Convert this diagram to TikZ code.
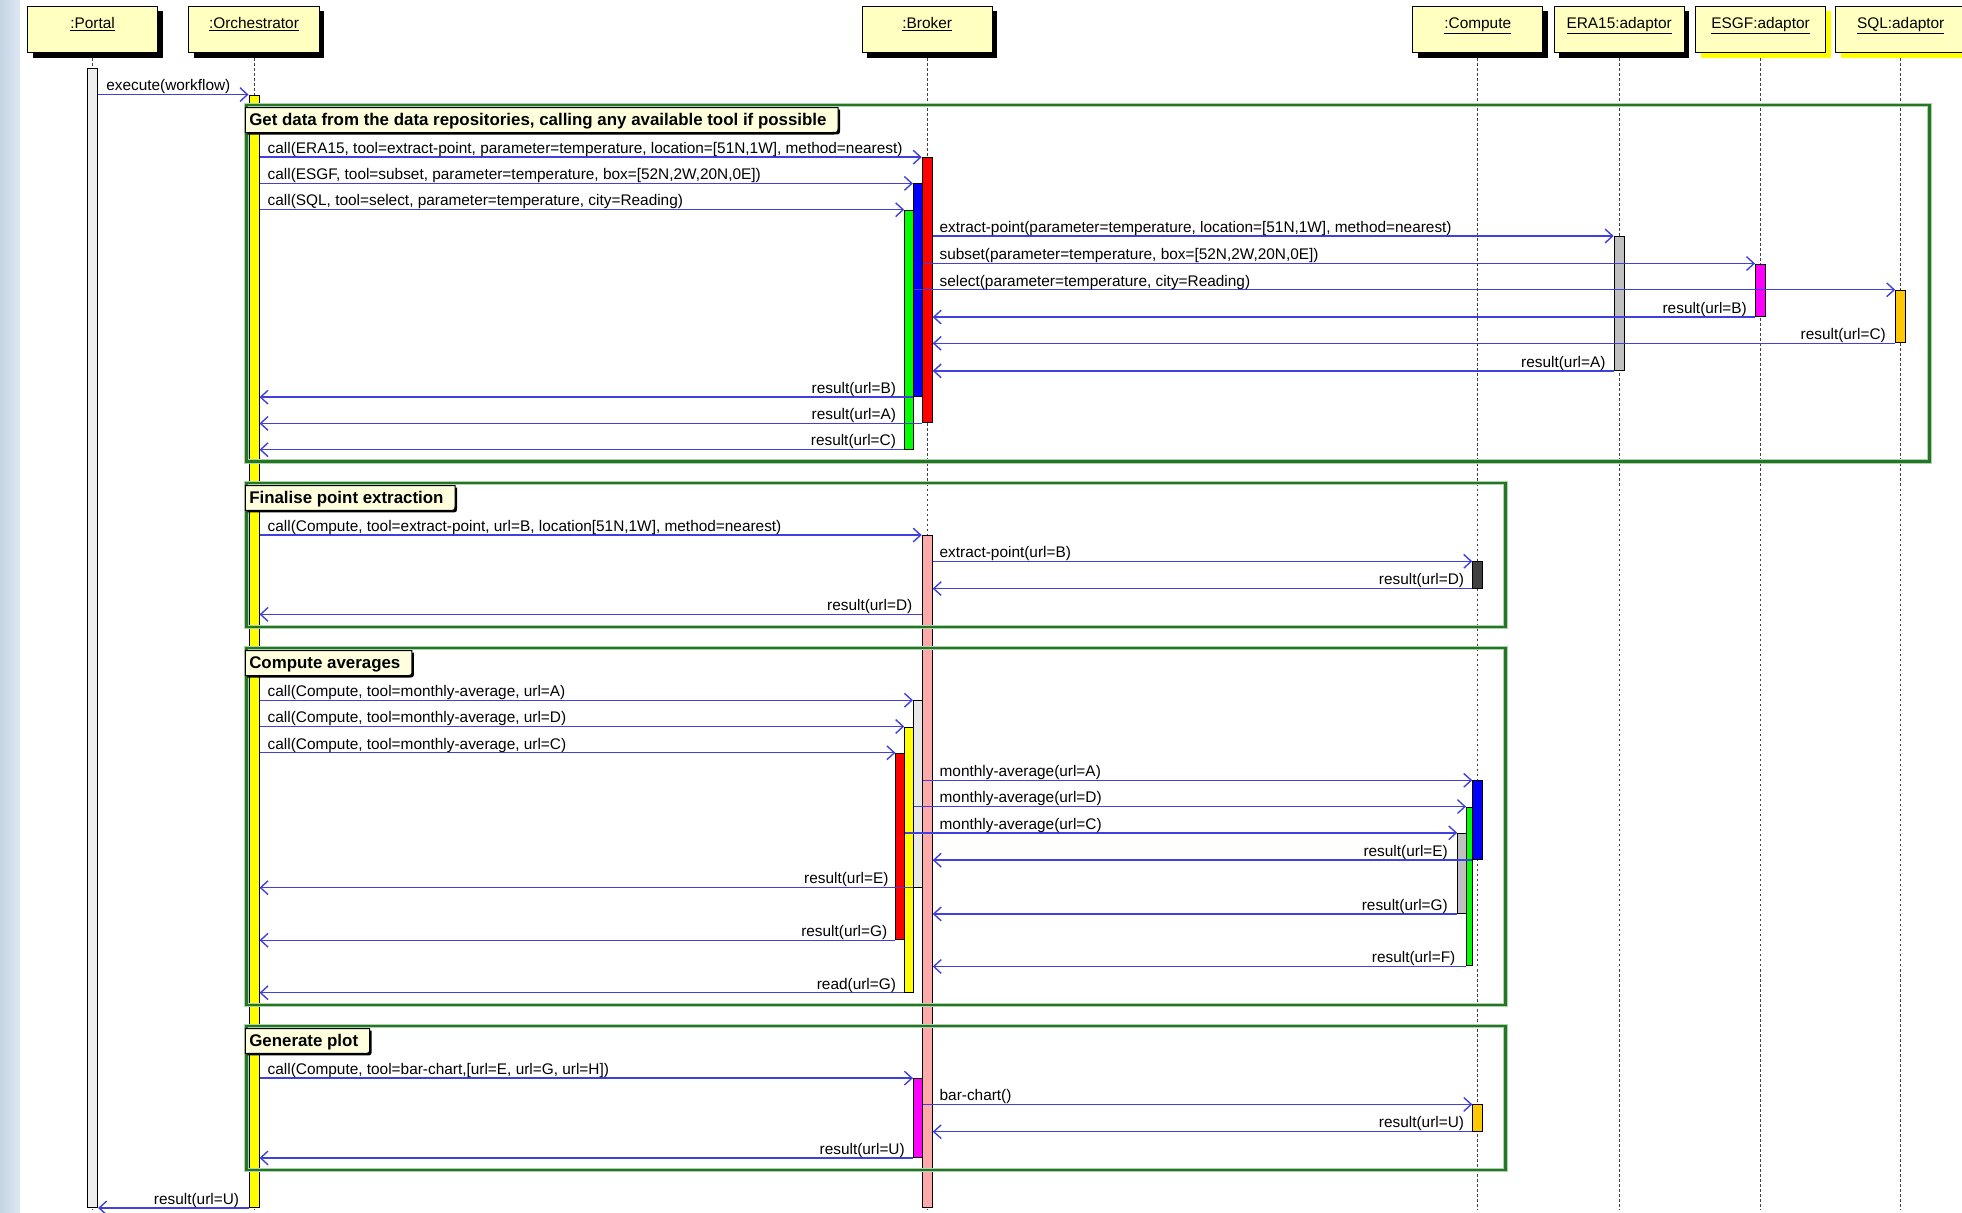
\documentclass[tikz,border=0pt]{standalone}
\usepackage{fontspec}
\setmainfont{Liberation Sans}
\usepackage{tikz}
\usetikzlibrary{arrows.meta,fit,shadows,backgrounds}
\definecolor{headfill}{RGB}{255,255,192}
\definecolor{tabfill}{RGB}{255,255,221}
\definecolor{msgblue}{RGB}{64,64,224}
\definecolor{framegreen}{RGB}{34,119,34}
\definecolor{sideblue}{RGB}{222,232,242}
\definecolor{sidebluedark}{RGB}{196,212,228}
\definecolor{portalgray}{RGB}{238,238,238}
\definecolor{actyellow}{RGB}{255,255,0}
\definecolor{actred}{RGB}{255,0,0}
\definecolor{actblue}{RGB}{0,0,255}
\definecolor{actgreen}{RGB}{0,255,0}
\definecolor{actmagenta}{RGB}{255,0,255}
\definecolor{actgray}{RGB}{192,192,192}
\definecolor{actlight}{RGB}{232,232,232}
\definecolor{actdark}{RGB}{64,64,64}
\definecolor{actpink}{RGB}{255,170,170}
\definecolor{actorange}{RGB}{255,200,0}
\pgfdeclarelayer{tabbg}
\pgfdeclarelayer{front}
\pgfsetlayers{main,tabbg,front}
\tikzset{
  headbox/.style={draw, line width=0.8pt, fill=headfill, minimum width=104pt, minimum height=37pt, inner sep=0pt, text height=9pt, text depth=11pt, drop shadow={shadow xshift=4pt, shadow yshift=-4pt, fill=black, opacity=1}},
  headboxy/.style={draw, line width=0.8pt, fill=headfill, minimum width=104pt, minimum height=37pt, inner sep=0pt, text height=9pt, text depth=11pt, drop shadow={shadow xshift=4pt, shadow yshift=-4pt, fill=actyellow, opacity=1}},
  lifeline/.style={draw=black!75, line width=0.6pt, dash pattern=on 2pt off 2pt},
  act/.style={draw, line width=0.8pt, inner sep=0pt, rectangle},
  gframe/.style={draw=framegreen, line width=2pt, inner sep=0pt, preaction={draw=framegreen!35, line width=3.6pt}},
  tabtext/.style={anchor=north west, font=\bfseries\fontsize{13.5}{15}\selectfont, inner xsep=3pt, inner ysep=3pt, text height=11pt, text depth=2.5pt},
  tabedge/.style={draw, line width=0.8pt, fill=tabfill, preaction={fill=black, transform canvas={xshift=1.6pt, yshift=-1.6pt}}},
  msg/.style={draw=msgblue, line width=1.1pt, -{Straight Barb[length=6pt, width=11pt]}},
  callnote/.style={pos=0, anchor=base west, inner sep=0pt, xshift=6pt, yshift=3pt, text=black},
  retnote/.style={pos=0, anchor=base east, inner sep=0pt, xshift=-6pt, yshift=3pt, text=black}
}
\begin{document}
\begin{tikzpicture}[x=1pt,y=-1pt,font=\fontsize{12.3}{14.5}\selectfont]
\useasboundingbox (0,0) rectangle (1568,969);
\fill[white] (0,0) rectangle (1568,969);
\shade[left color=sidebluedark, right color=sideblue] (0,0) rectangle (16,969);

% lifeline heads
\node[headbox] (portal) at (74,23.5) {\underline{:Portal}};
\node[headbox] (orch) at (203,23.5) {\underline{:Orchestrator}};
\node[headbox] (broker) at (741,23.5) {\underline{:Broker}};
\node[headbox] (compute) at (1181,23.5) {\underline{:Compute}};
\node[headbox] (era) at (1294,23.5) {\underline{ERA15:adaptor}};
\node[headboxy] (esgf) at (1407,23.5) {\underline{ESGF:adaptor}};
\node[headboxy] (sql) at (1519,23.5) {\underline{SQL:adaptor}};

\coordinate (lifeEnd) at (0,967);
\foreach \p in {portal,orch,broker,compute,era,esgf,sql}
  \draw[lifeline] ([yshift=-4pt]\p.south) -- (\p |- lifeEnd);

% activations
\node[act, fill=portalgray, fit={(70,55) (78,965)}] (pAct) {};
\node[act, fill=actyellow, fit={(199,76) (207,965)}] (oAct) {};
\node[act, fill=actred, fit={(737,126) (745,338)}] (bRed) {};
\node[act, fill=actblue, fit={(730,147) (737,317)}] (bBlue) {};
\node[act, fill=actgreen, fit={(723,168) (730,359)}] (bGreen) {};
\node[act, fill=actgray, fit={(1290,189) (1298,296)}] (eraAct) {};
\node[act, fill=actmagenta, fit={(1403,211) (1411,253)}] (esgfAct) {};
\node[act, fill=actorange, fit={(1515,232) (1523,274)}] (sqlAct) {};
\node[act, fill=actpink, fit={(737,428) (745,965)}] (bPink) {};
\node[act, fill=actdark, fit={(1177,449) (1185,470)}] (cDark) {};
\node[act, fill=actlight, fit={(730,560) (737,709)}] (bLight) {};
\node[act, fill=actyellow, fit={(723,581) (730,793)}] (bYellow) {};
\node[act, fill=actred, fit={(716,602) (723,751)}] (bRedAvg) {};
\node[act, fill=actblue, fit={(1177,624) (1185,687)}] (cBlue) {};
\node[act, fill=actgreen, fit={(1172,645) (1177,772)}] (cGreen) {};
\node[act, fill=actgray, fit={(1165,666) (1172,730)}] (cGray) {};
\node[act, fill=actmagenta, fit={(730,862) (737,925)}] (bMag) {};
\node[act, fill=actorange, fit={(1177,883) (1185,904)}] (cOrange) {};

% combined fragments
\node[gframe, fit={(197,84) (1542,369)}] (fGet) {};
\node[gframe, fit={(197,386) (1203,501)}] (fPoint) {};
\node[gframe, fit={(197,518) (1203,803)}] (fAvg) {};
\node[gframe, fit={(197,820) (1203,935)}] (fPlot) {};

% messages
\draw[msg] (pAct.east |- oAct.north) -- node[callnote] {execute(workflow)} (oAct.north west);

\draw[msg] (oAct.east |- bRed.north) -- node[callnote] {call(ERA15, tool=extract-point, parameter=temperature, location=[51N,1W], method=nearest)} (bRed.north west);
\draw[msg] (oAct.east |- bBlue.north) -- node[callnote] {call(ESGF, tool=subset, parameter=temperature, box=[52N,2W,20N,0E])} (bBlue.north west);
\draw[msg] (oAct.east |- bGreen.north) -- node[callnote] {call(SQL, tool=select, parameter=temperature, city=Reading)} (bGreen.north west);
\draw[msg] (bRed.east |- eraAct.north) -- node[callnote, xshift=-1pt] {extract-point(parameter=temperature, location=[51N,1W], method=nearest)} (eraAct.north west);
\draw[msg] (bBlue.east |- esgfAct.north) -- node[callnote, xshift=7pt] {subset(parameter=temperature, box=[52N,2W,20N,0E])} (esgfAct.north west);
\draw[msg] (bGreen.east |- sqlAct.north) -- node[callnote, xshift=14pt] {select(parameter=temperature, city=Reading)} (sqlAct.north west);
\draw[msg] (esgfAct.south west) -- node[retnote] {result(url=B)} (bRed.east |- esgfAct.south);
\draw[msg] (sqlAct.south west) -- node[retnote, xshift=-1pt] {result(url=C)} (bRed.east |- sqlAct.south);
\draw[msg] (eraAct.south west) -- node[retnote] {result(url=A)} (bRed.east |- eraAct.south);
\draw[msg] (bBlue.south west) -- node[retnote, xshift=-7pt] {result(url=B)} (oAct.east |- bBlue.south);
\draw[msg] (bRed.south west) -- node[retnote, xshift=-14pt] {result(url=A)} (oAct.east |- bRed.south);
\draw[msg] (bGreen.south west) -- node[retnote] {result(url=C)} (oAct.east |- bGreen.south);

\coordinate (rowD) at (0,491);
\draw[msg] (oAct.east |- bPink.north) -- node[callnote] {call(Compute, tool=extract-point, url=B, location[51N,1W], method=nearest)} (bPink.north west);
\draw[msg] (bPink.east |- cDark.north) -- node[callnote, xshift=-1pt] {extract-point(url=B)} (cDark.north west);
\draw[msg] (cDark.south west) -- node[retnote] {result(url=D)} (bPink.east |- cDark.south);
\draw[msg] (bPink.west |- rowD) -- node[retnote, xshift=-1pt] {result(url=D)} (oAct.east |- rowD);

\draw[msg] (oAct.east |- bLight.north) -- node[callnote] {call(Compute, tool=monthly-average, url=A)} (bLight.north west);
\draw[msg] (oAct.east |- bYellow.north) -- node[callnote] {call(Compute, tool=monthly-average, url=D)} (bYellow.north west);
\draw[msg] (oAct.east |- bRedAvg.north) -- node[callnote] {call(Compute, tool=monthly-average, url=C)} (bRedAvg.north west);
\draw[msg] (bLight.east |- cBlue.north) -- node[callnote, xshift=7pt] {monthly-average(url=A)} (cBlue.north west);
\draw[msg] (bYellow.east |- cGreen.north) -- node[callnote, xshift=14pt] {monthly-average(url=D)} (cGreen.north west);
\draw[msg] (bRedAvg.east |- cGray.north) -- node[callnote, xshift=21pt] {monthly-average(url=C)} (cGray.north west);
\draw[msg] (cBlue.south west) -- node[retnote, xshift=-13pt] {result(url=E)} (bPink.east |- cBlue.south);
\draw[msg] (bLight.south west) -- node[retnote, xshift=-13pt] {result(url=E)} (oAct.east |- bLight.south);
\draw[msg] (cGray.south west) -- node[retnote, xshift=-1pt] {result(url=G)} (bPink.east |- cGray.south);
\draw[msg] (bRedAvg.south west) -- node[retnote] {result(url=G)} (oAct.east |- bRedAvg.south);
\draw[msg] (cGreen.south west) -- node[retnote, xshift=-2pt] {result(url=F)} (bPink.east |- cGreen.south);
\draw[msg] (bYellow.south west) -- node[retnote] {read(url=G)} (oAct.east |- bYellow.south);

\draw[msg] (oAct.east |- bMag.north) -- node[callnote] {call(Compute, tool=bar-chart,[url=E, url=G, url=H])} (bMag.north west);
\draw[msg] (bMag.east |- cOrange.north) -- node[callnote, xshift=7pt] {bar-chart()} (cOrange.north west);
\draw[msg] (cOrange.south west) -- node[retnote] {result(url=U)} (bPink.east |- cOrange.south);
\draw[msg] (bMag.south west) -- node[retnote] {result(url=U)} (oAct.east |- bMag.south);
\draw[msg] (oAct.south west) -- node[retnote, xshift=-1pt] {result(url=U)} (pAct.east |- oAct.south);

% fragment labels
\begin{pgfonlayer}{front}
\node[tabtext] (tGet) at ([yshift=-3pt]fGet.north west) {Get data from the data repositories, calling any available tool if possible};
\node[tabtext] (tPoint) at ([yshift=-3pt]fPoint.north west) {Finalise point extraction};
\node[tabtext] (tAvg) at ([yshift=-3pt]fAvg.north west) {Compute averages};
\node[tabtext] (tPlot) at ([yshift=-3pt]fPlot.north west) {Generate plot};
\end{pgfonlayer}
\begin{pgfonlayer}{tabbg}
\draw[tabedge] (tGet.north west) -- ([xshift=6pt]tGet.north east) -- ([xshift=6pt,yshift=5pt]tGet.south east) .. controls ([xshift=6pt]tGet.south east) .. ([xshift=1pt]tGet.south east) -- (tGet.south west) -- cycle;
\draw[tabedge] (tPoint.north west) -- ([xshift=6pt]tPoint.north east) -- ([xshift=6pt,yshift=5pt]tPoint.south east) .. controls ([xshift=6pt]tPoint.south east) .. ([xshift=1pt]tPoint.south east) -- (tPoint.south west) -- cycle;
\draw[tabedge] (tAvg.north west) -- ([xshift=6pt]tAvg.north east) -- ([xshift=6pt,yshift=5pt]tAvg.south east) .. controls ([xshift=6pt]tAvg.south east) .. ([xshift=1pt]tAvg.south east) -- (tAvg.south west) -- cycle;
\draw[tabedge] (tPlot.north west) -- ([xshift=6pt]tPlot.north east) -- ([xshift=6pt,yshift=5pt]tPlot.south east) .. controls ([xshift=6pt]tPlot.south east) .. ([xshift=1pt]tPlot.south east) -- (tPlot.south west) -- cycle;
\end{pgfonlayer}
\end{tikzpicture}
\end{document}
